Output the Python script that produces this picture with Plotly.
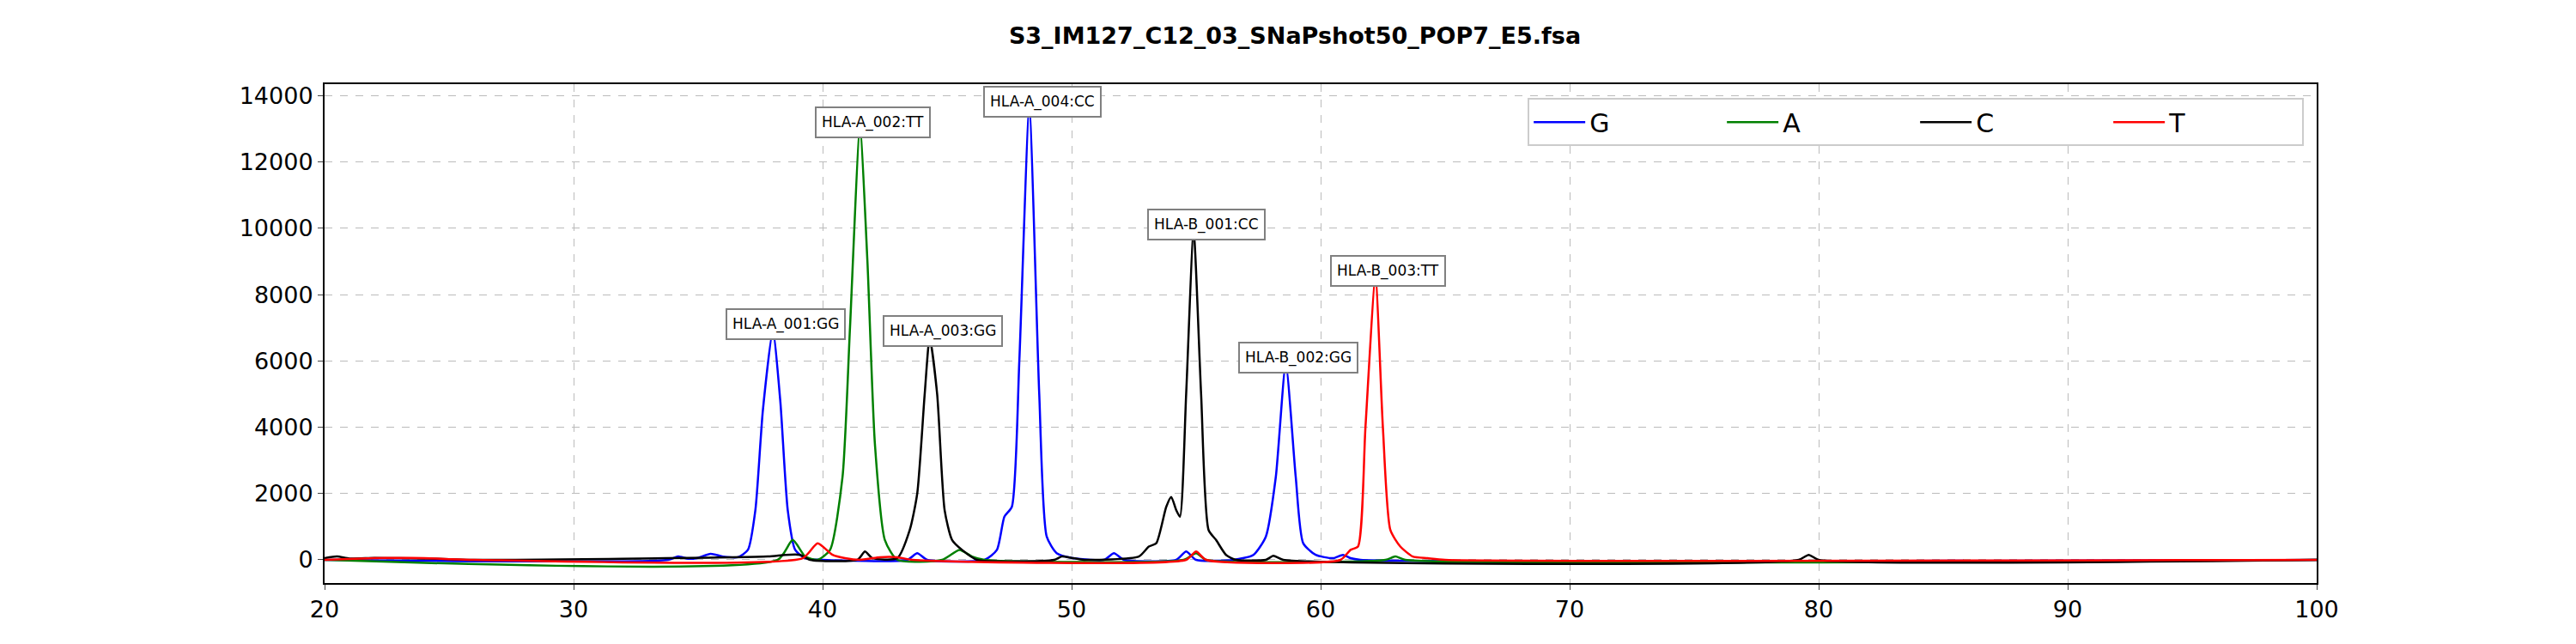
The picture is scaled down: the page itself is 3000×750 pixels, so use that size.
import plotly.graph_objects as go

# channel traces (size, intensity)
g_x = [20, 33.8, 34.2, 34.6, 35.0, 35.5, 36.0, 36.6, 37.0, 37.3, 37.6, 38.0, 38.3, 38.6, 38.9, 39.3, 40, 43.4, 43.8, 44.2,
       46.5, 47.0, 47.3, 47.6, 47.9, 48.3, 48.7, 49.0, 49.4, 50.0, 51.3, 51.7, 52.1, 54.2, 54.6, 55.0, 56.5, 57.3, 57.8,
       58.2, 58.6, 59.0, 59.3, 59.8, 60.5, 60.9, 61.2, 61.6, 100]
g_y = [0, 0, 100, 30, 60, 180, 100, 80, 300, 1500, 4500, 6900, 4800, 1500, 300, 50, 0, 0, 200, 0,
       0, 300, 1300, 1600, 6000, 13600, 5000, 700, 200, 60, 0, 200, 0, 0, 250, 0, 0, 150, 700,
       2500, 5900, 2500, 500, 150, 50, 150, 50, 0, 0]

a_x = [20, 38.2, 38.8, 39.3, 39.8, 40.3, 40.8, 41.1, 41.5, 41.8, 42.1, 42.5, 43.0, 44.8, 45.5, 46.0, 46.5,
       54.5, 55.0, 55.4, 62.6, 63.0, 63.4, 100]
a_y = [0, 0, 600, 100, 0, 300, 2500, 7000, 13000, 9000, 3500, 600, 0, 0, 300, 100, 0,
       0, 200, 0, 0, 100, 0, 0]

c_x = [20, 20.5, 21, 22, 23, 24, 25, 26, 37.8, 38.5, 39.1, 39.5, 41.4, 41.7, 42.0, 43.0, 43.5, 43.8, 44.1,
       44.3, 44.6, 44.9, 45.2, 45.6, 46.2, 49.3, 49.6, 50.0, 50.5, 52.7, 53.1, 53.4, 53.8, 54.0, 54.2, 54.35,
       54.6, 54.9, 55.2, 55.5, 55.8, 56.2, 56.6, 57.8, 58.1, 58.5, 79.2, 79.6, 80.0, 100]
c_y = [50, 100, 40, 60, 50, 40, 20, 0, 100, 150, 150, 0, 0, 250, 50, 50, 900, 2000, 5000,
       6700, 5000, 1500, 600, 300, 0, 0, 100, 60, 0, 100, 400, 500, 1600, 1900, 1500, 1300,
       5000, 9900, 5000, 900, 600, 150, 0, 0, 120, 0, 0, 150, 0, 0]

t_x = [20, 22, 23, 24, 25, 26, 39.2, 39.8, 40.4, 40.9, 41.5, 42.3, 43.0, 43.6, 54.6, 55.0, 55.4,
       60.8, 61.2, 61.5, 61.8, 62.2, 62.5, 62.8, 63.2, 63.7, 64.3, 65, 100]
t_y = [0, 50, 60, 50, 20, 0, 50, 500, 150, 50, 0, 80, 80, 0, 0, 250, 0,
       0, 300, 400, 4000, 8500, 4000, 900, 400, 100, 50, 0, 0]

labels = ['HLA-A_001:GG', 'HLA-A_002:TT', 'HLA-A_003:GG', 'HLA-A_004:CC',
          'HLA-B_001:CC', 'HLA-B_002:GG', 'HLA-B_003:TT']
label_x = [38.0, 41.5, 44.3, 48.3, 54.9, 58.6, 62.2]
label_y = [6900, 13000, 6700, 13600, 9900, 5900, 8500]

fig = go.Figure()
for name, xs, ys, col in [('G', g_x, g_y, 'blue'), ('A', a_x, a_y, 'green'),
                          ('C', c_x, c_y, 'black'), ('T', t_x, t_y, 'red')]:
    fig.add_trace(go.Scatter(x=xs, y=ys, name=name, mode='lines',
                             line=dict(color=col, width=2.5, shape='spline', smoothing=0.6)))

for txt, lx, ly in zip(labels, label_x, label_y):
    fig.add_annotation(x=lx, y=ly, text=txt, showarrow=False, xshift=15, yshift=8,
                       font=dict(size=17, color='black'), bgcolor='white',
                       bordercolor='grey', borderwidth=2, borderpad=6)

fig.update_layout(
    width=3000, height=750,
    margin=dict(l=370, r=310, t=90, b=79),
    plot_bgcolor='white', paper_bgcolor='white',
    font=dict(family='DejaVu Sans', color='black'),
    title=dict(text='<b>S3_IM127_C12_03_SNaPshot50_POP7_E5.fsa</b>', x=0.5, xanchor='center',
               y=0.955, yanchor='middle', font=dict(size=27)),
    legend=dict(orientation='h', x=0.9936, xanchor='right', y=0.972, yanchor='top',
                font=dict(size=30), bgcolor='white', bordercolor='#cccccc', borderwidth=2,
                entrywidth=150, itemwidth=60, tracegroupgap=0),
)
fig.update_xaxes(range=[20, 100], dtick=10, showline=True, linecolor='black', linewidth=2,
                 mirror=True, ticks='outside', ticklen=6, tickfont=dict(size=27),
                 showgrid=True, gridcolor='#bbbbbb', griddash='dash', zeroline=False)
fig.update_yaxes(range=[-700, 14350], dtick=2000, tickformat='d', showline=True, linecolor='black',
                 linewidth=2, mirror=True, ticks='outside', ticklen=6, tickfont=dict(size=27),
                 showgrid=True, gridcolor='#bbbbbb', griddash='dash', zeroline=False)

fig.write_html('out.html')
